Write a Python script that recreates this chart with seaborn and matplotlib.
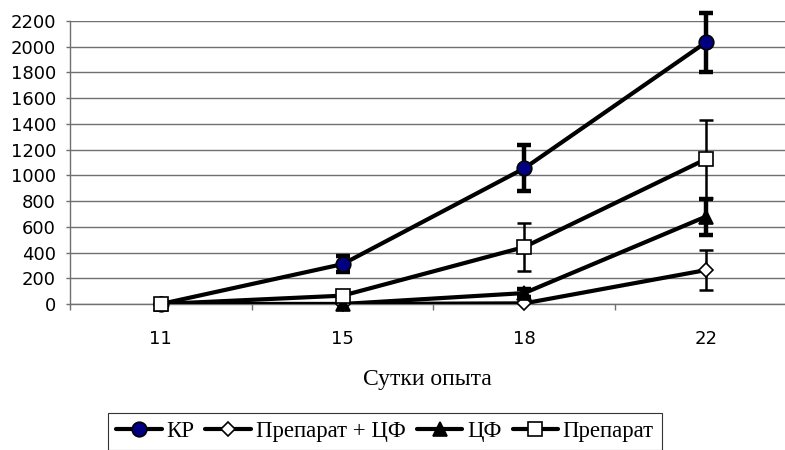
import numpy as np
import pandas as pd
import matplotlib
matplotlib.use("Agg")
import matplotlib.pyplot as plt
import seaborn as sns
from matplotlib.ticker import FixedLocator, MultipleLocator

days = ["11", "15", "18", "22"]
series_names = ["КР", "Препарат + ЦФ", "ЦФ", "Препарат"]
kr = [0, 310, 1055, 2035]
kr_err = [0, 65, 180, 230]
prep_cf = [0, 0, 5, 264]
prep_cf_err = [0, 0, 0, 155]
cf = [0, 0, 85, 680]
cf_err = [0, 0, 30, 140]
prep = [0, 65, 443, 1127]
prep_err = [0, 0, 190, 305]

values = [kr, prep_cf, cf, prep]
errors = [kr_err, prep_cf_err, cf_err, prep_err]

rows = []
for name, vals in zip(series_names, values):
    for i, v in enumerate(vals):
        rows.append({"pos": i, "day": days[i], "series": name, "value": v})
df = pd.DataFrame(rows)

sns.set_theme(style="white")
plt.rcParams["font.family"] = ["DejaVu Sans"]

fig = plt.figure(figsize=(7.85, 4.5), dpi=100)
ax = fig.add_axes([70 / 785, 1 - 304 / 450, 1 - 70 / 785, (304 - 21) / 450])

styles = {
    "КР": dict(marker="o", mfc="#000080", ms=10.5),
    "Препарат + ЦФ": dict(marker="D", mfc="white", ms=6.8),
    "ЦФ": dict(marker="^", mfc="black", ms=9.5),
    "Препарат": dict(marker="s", mfc="white", ms=9.8),
}
err_lw = {"КР": 3.2, "Препарат + ЦФ": 1.8, "ЦФ": 3.2, "Препарат": 1.8}

palette = {n: "black" for n in series_names}
sns.lineplot(data=df, x="pos", y="value", hue="series", hue_order=series_names,
             palette=palette, linewidth=3.0, legend=False, ax=ax, zorder=3,
             sort=False)

for name, vals, errs in zip(series_names, values, errors):
    x = np.arange(len(vals))
    errs = np.array(errs, dtype=float)
    mask = errs > 0
    ax.errorbar(x[mask], np.array(vals)[mask], yerr=errs[mask], fmt="none",
                ecolor="black", elinewidth=err_lw[name], capsize=5,
                capthick=err_lw[name], zorder=4, clip_on=False)

handles = []
for name, vals in zip(series_names, values):
    st = styles[name]
    ax.plot(np.arange(len(vals)), vals, linestyle="none", marker=st["marker"],
            markersize=st["ms"], markerfacecolor=st["mfc"],
            markeredgecolor="black", markeredgewidth=1.2, zorder=5,
            clip_on=False)
    lh, = ax.plot([], [], color="black", linewidth=3.0, marker=st["marker"],
                  markersize=st["ms"], markerfacecolor=st["mfc"],
                  markeredgecolor="black", markeredgewidth=1.2, label=name)
    handles.append(lh)

ax.set_ylim(0, 2200)
ax.set_xlim(-0.5, 3 + (785 - 706) / 182)
ax.yaxis.set_major_locator(MultipleLocator(200))
ax.set_xticks(range(len(days)))
ax.set_xticklabels(days)
ax.xaxis.set_minor_locator(FixedLocator([-0.5, 0.5, 1.5, 2.5, 3.5]))

ax.grid(axis="y", color="#707070", linewidth=1.0)
ax.grid(axis="x", visible=False)
for s in ["top", "right"]:
    ax.spines[s].set_visible(False)
for s in ["left", "bottom"]:
    ax.spines[s].set_color("#707070")
    ax.spines[s].set_linewidth(1.0)

ax.tick_params(axis="y", which="major", direction="out", length=3, width=1,
               color="#707070", pad=7, labelsize=13, left=True)
ax.tick_params(axis="x", which="major", length=0, pad=19, labelsize=13)
ax.tick_params(axis="x", which="minor", direction="out", length=4, width=1,
               color="#707070", bottom=True)
for lbl in ax.get_xticklabels() + ax.get_yticklabels():
    lbl.set_color("black")

ax.set_xlabel("Сутки опыта", fontfamily="Liberation Serif", fontsize=17,
              labelpad=15, color="black")
ax.set_ylabel("")

leg = fig.legend(handles=handles, labels=series_names, loc="upper left",
                 bbox_to_anchor=(108 / 785, 1 - 413 / 450),
                 bbox_transform=fig.transFigure, ncol=4, frameon=True,
                 fancybox=False, shadow=False, borderaxespad=0,
                 handlelength=2.0, handletextpad=0.2, columnspacing=0.5,
                 borderpad=0.35, prop={"family": "Liberation Serif", "size": 16.4})
leg.get_frame().set_edgecolor("black")
leg.get_frame().set_linewidth(0.8)
for t in leg.get_texts():
    t.set_color("black")

fig.savefig("out.png", dpi=100)
